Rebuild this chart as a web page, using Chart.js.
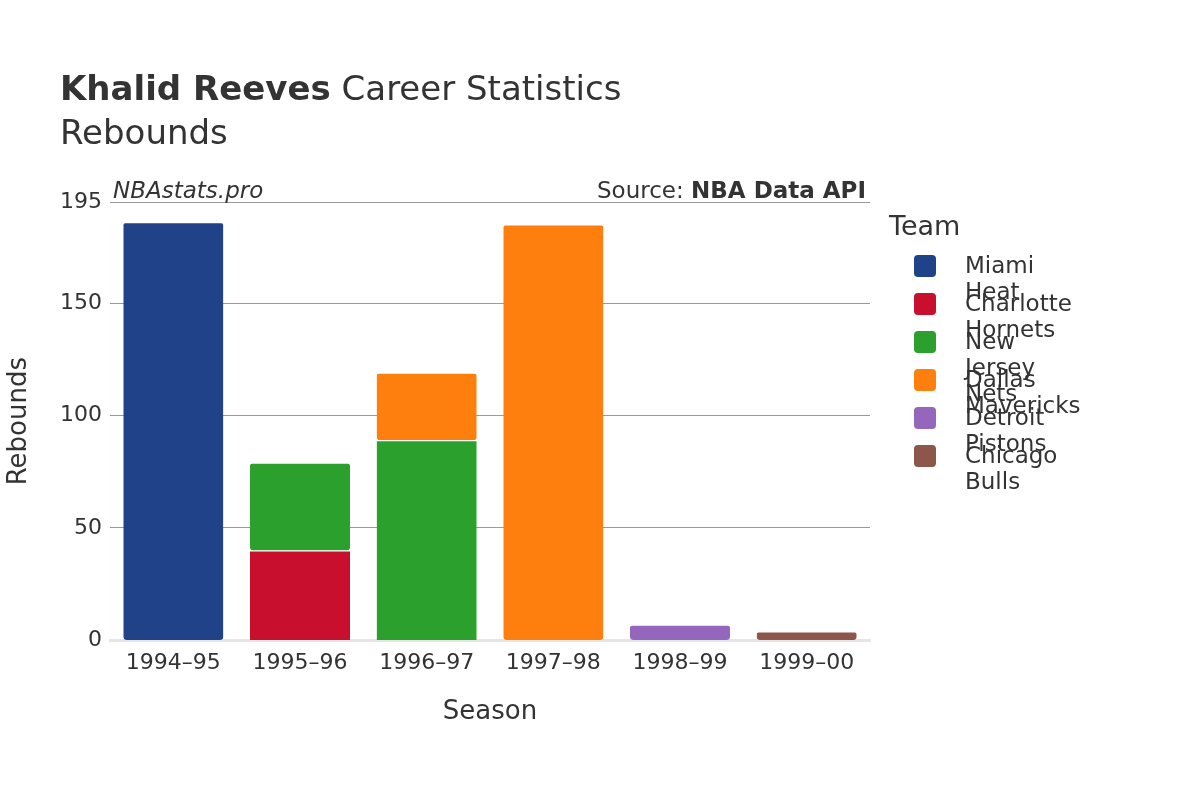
<!DOCTYPE html>
<html><head><meta charset="utf-8">
<script src="https://cdn.jsdelivr.net/npm/chart.js@4"></script>
<style>
body{margin:0;width:1200px;height:800px;background:#fff;font-family:"DejaVu Sans",sans-serif;color:#333;position:relative;overflow:hidden}
.t{position:absolute;white-space:nowrap}
#c{position:absolute;left:0;top:0}
.li{position:absolute;left:914px;font-size:23px;color:#333}
.sw{position:absolute;left:0;top:3px;width:22px;height:22px;border-radius:4px}
.li span{position:absolute;left:51px;top:0}
</style></head><body>
<canvas id="c" width="1200" height="800"></canvas>
<div class="t" style="left:60px;top:68px;font-size:34px"><b>Khalid Reeves</b> Career Statistics</div>
<div class="t" style="left:60px;top:112px;font-size:34px">Rebounds</div>
<div class="t" style="left:113px;top:177px;font-size:23px;font-style:italic">NBAstats.pro</div>
<div class="t" style="right:334px;top:177px;font-size:23px">Source: <b>NBA Data API</b></div>
<div class="t" style="left:889px;top:210px;font-size:27px">Team</div>
<div id="leg"></div>
<script>
const seasons=["1994–95","1995–96","1996–97","1997–98","1998–99","1999–00"];
const teams=["Miami Heat","Charlotte Hornets","New Jersey Nets","Dallas Mavericks","Detroit Pistons","Chicago Bulls"];
const colors=["#1f4288","#c8102e","#2ca02c","#ff7f0e","#9467bd","#8c564b"];
const miami=[186,0,0,0,0,0];
const charlotte=[0,40,0,0,0,0];
const nets=[0,39,89,0,0,0];
const dallas=[0,0,30,185,0,0];
const detroit=[0,0,0,0,7,0];
const chicago=[0,0,0,0,0,4];
const series=[miami,charlotte,nets,dallas,detroit,chicago];
let lh='';
teams.forEach((t,i)=>{lh+=`<div class="li" style="top:${252+i*38}px"><div class="sw" style="background:${colors[i]}"></div><span>${t}</span></div>`});
document.getElementById('leg').innerHTML=lh;
new Chart(document.getElementById('c'),{type:'bar',
data:{labels:seasons,datasets:series.map((d,i)=>({label:teams[i],data:d.map(v=>v||null),backgroundColor:colors[i],borderColor:'#fff',borderWidth:{top:1},borderRadius:3,borderSkipped:false,barPercentage:0.79,categoryPercentage:1}))},
options:{responsive:false,animation:false,plugins:{legend:{display:false},tooltip:{enabled:false}},
layout:{padding:{left:0,right:330,top:202,bottom:68}},
scales:{x:{stacked:true,grid:{display:false},border:{color:'#e6e6e6',width:3},ticks:{color:'#333',font:{size:22,family:'DejaVu Sans'},padding:2},title:{display:true,text:'Season',color:'#333',font:{size:26,family:'DejaVu Sans'},padding:{top:18}}},
y:{stacked:true,min:0,max:195,afterFit:s=>{s.width=110},grid:{color:ctx=>ctx.tick.value===0?'transparent':'#999',drawTicks:false},border:{display:false},ticks:{stepSize:50,color:'#333',font:{size:22,family:'DejaVu Sans'},padding:8},title:{display:true,text:'Rebounds',color:'#333',font:{size:26,family:'DejaVu Sans'}}}}}});
</script></body></html>
